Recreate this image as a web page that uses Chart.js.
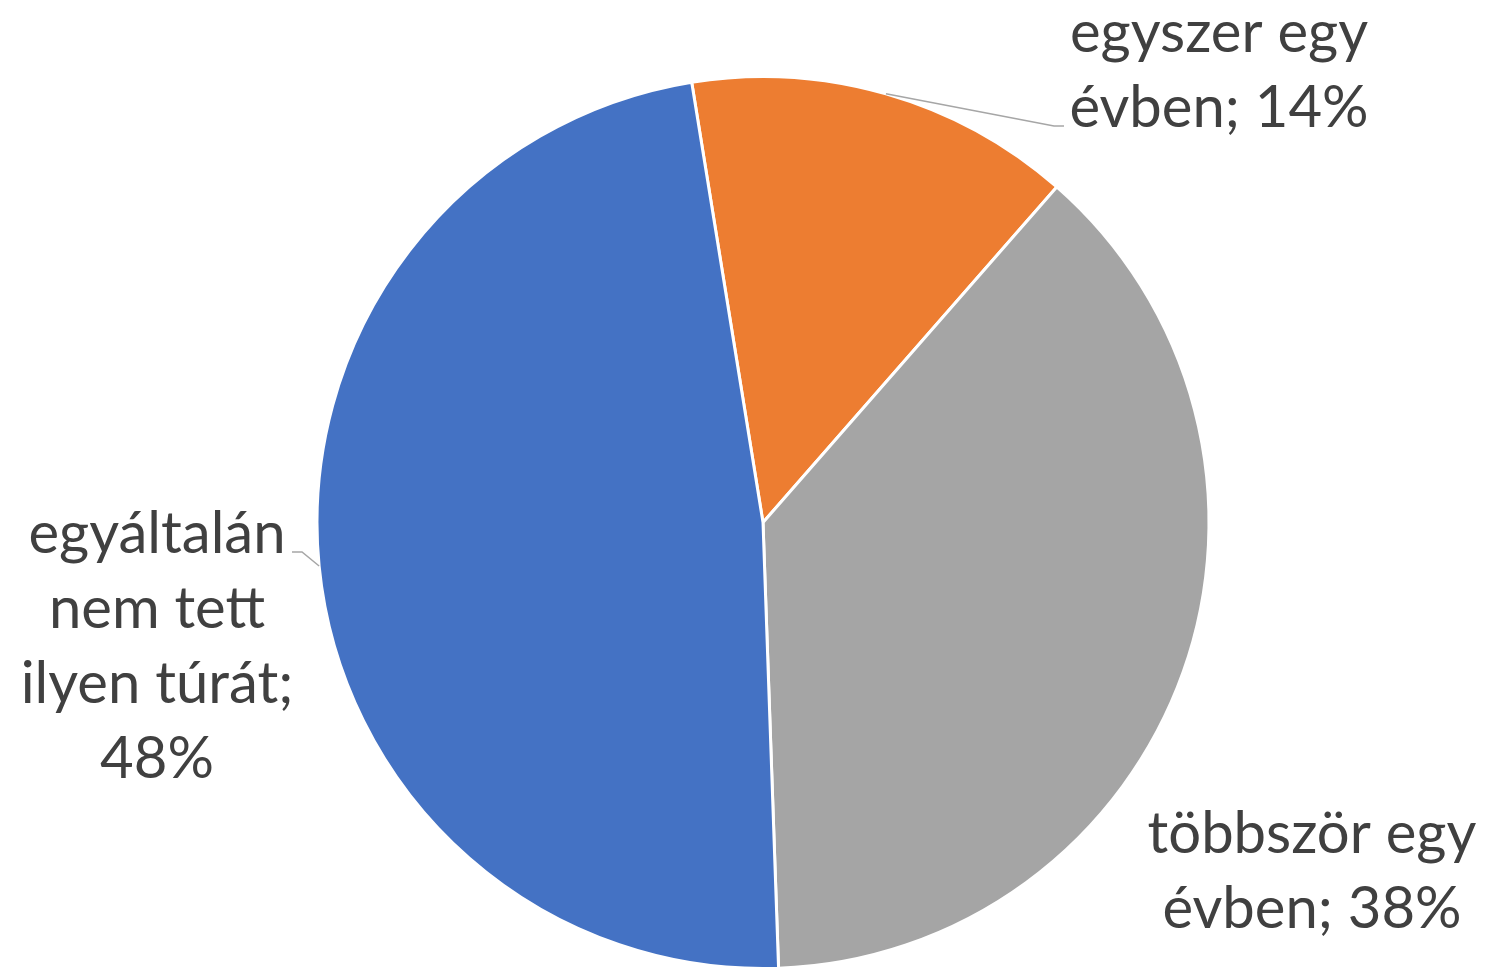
<!DOCTYPE html>
<html>
<head>
<meta charset="utf-8">
<script src="https://cdn.jsdelivr.net/npm/chart.js@4"></script>
<style>
    html, body { margin: 0; padding: 0; background: #ffffff; overflow: hidden; }
    #wrap { width: 1486px; height: 970px; }
</style>
</head>
<body>
<div id="wrap"><canvas id="pie-chart" width="1486" height="970"></canvas></div>
<script>
// Data
const categories = ['egyszer egy évben', 'többször egy évben', 'egyáltalán nem tett ilyen túrát'];
const shares = [14, 38, 48];
const labelLines = [
    ['egyszer egy', 'évben; 14%'],
    ['többször egy', 'évben; 38%'],
    ['egyáltalán', 'nem tett', 'ilyen túrát;', '48%']
];
const sliceColors = ['#ED7D31', '#A5A5A5', '#4472C4'];

// label placement (x centre, first baseline) and leader elbows
const labelPlacement = [
    { x: 1219, y: 52, leader: [[1054, 126], [1064, 126]] },
    { x: 1312, y: 853, leader: null },
    { x: 157, y: 553, leader: [[302, 552], [292, 552]] }
];

const FONT_FAMILY = 'Lato, "Noto Sans", sans-serif';
const LINE_HEIGHT = 75;

function fitFontSize(ctx) {
    // match the reference width of "egyszer egy" (~298px)
    ctx.font = `100px ${FONT_FAMILY}`;
    const w = ctx.measureText('egyszer egy').width;
    return Math.round(100 * 298 / w);
}

const outsideLabels = {
    id: 'outsideLabels',
    afterDatasetsDraw(chart) {
        const ctx = chart.ctx;
        const meta = chart.getDatasetMeta(0);
        const size = fitFontSize(ctx);
        ctx.save();
        meta.data.forEach((arc, i) => {
            const place = labelPlacement[i];
            if (place.leader) {
                const mid = (arc.startAngle + arc.endAngle) / 2;
                const sx = arc.x + Math.cos(mid) * arc.outerRadius;
                const sy = arc.y + Math.sin(mid) * arc.outerRadius;
                ctx.beginPath();
                ctx.moveTo(sx, sy);
                place.leader.forEach(([px, py]) => ctx.lineTo(px, py));
                ctx.strokeStyle = '#A6A6A6';
                ctx.lineWidth = 1.5;
                ctx.stroke();
            }
            ctx.font = `${size}px ${FONT_FAMILY}`;
            ctx.fillStyle = '#404040';
            ctx.textAlign = 'center';
            ctx.textBaseline = 'alphabetic';
            labelLines[i].forEach((line, j) => {
                ctx.fillText(line, place.x, place.y + j * LINE_HEIGHT);
            });
        });
        ctx.restore();
    }
};

const ctx = document.getElementById('pie-chart').getContext('2d');
new Chart(ctx, {
    type: 'pie',
    data: {
        labels: categories,
        datasets: [{
            data: shares,
            backgroundColor: sliceColors,
            borderColor: '#ffffff',
            borderWidth: 3
        }]
    },
    options: {
        responsive: false,
        animation: false,
        rotation: -9.2,
        layout: {
            padding: { top: 75, bottom: 0, left: 315.5, right: 275.5 }
        },
        plugins: {
            legend: { display: false },
            tooltip: { enabled: false }
        }
    },
    plugins: [outsideLabels]
});
</script>
</body>
</html>
